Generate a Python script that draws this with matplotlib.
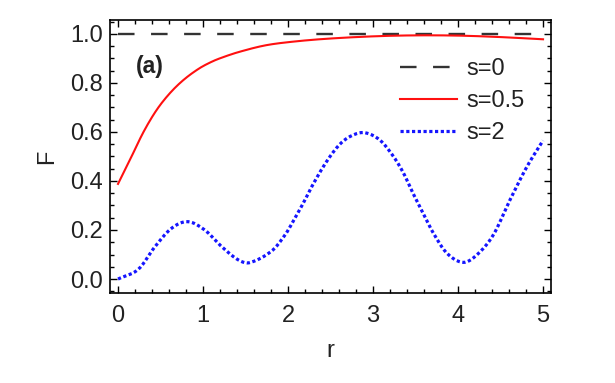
import numpy as np
import matplotlib.pyplot as plt
from matplotlib.ticker import MultipleLocator

plt.rcParams['font.family'] = ['Liberation Sans', 'DejaVu Sans']

# values
r_half = [0.0, 0.14, 0.3, 0.455, 0.61, 0.77, 0.95, 1.1, 1.22, 1.42, 1.73,
          2.05, 2.45, 3.0, 3.5, 4.0, 4.5, 5.0]
F_half = [0.388, 0.486, 0.6, 0.69, 0.758, 0.812, 0.858, 0.886, 0.903, 0.926,
          0.953, 0.968, 0.980, 0.990, 0.994, 0.993, 0.987, 0.978]

r_two = [0.0, 0.24, 0.435, 0.63, 0.82, 1.02, 1.22, 1.415, 1.55, 1.81, 1.965,
         2.06, 2.18, 2.3, 2.455, 2.61, 2.75, 2.9, 3.08, 3.24, 3.36, 3.47, 3.59,
         3.71, 3.87, 4.06, 4.22, 4.415, 4.61, 4.81, 5.0]
F_two = [0.0, 0.04, 0.132, 0.207, 0.234, 0.2, 0.132, 0.078, 0.067, 0.115, 0.18,
         0.235, 0.31, 0.39, 0.48, 0.55, 0.585, 0.597, 0.567, 0.5, 0.431, 0.35,
         0.268, 0.187, 0.105, 0.068, 0.098, 0.18, 0.322, 0.458, 0.565]

r_zero = [0.0, 5.0]
F_zero = [1.0, 1.0]

labels = ['s=0', 's=0.5', 's=2']

fig = plt.figure(figsize=(6.15, 3.83), dpi=100)
ax = fig.add_axes([0.1789, 0.235, 0.896 - 0.1789, 0.948 - 0.235])


def smooth(x, y, n=400):
    # cubic hermite through the read points
    x = np.asarray(x)
    y = np.asarray(y)
    xs = np.linspace(x[0], x[-1], n)
    out = []
    for xv in xs:
        i = np.searchsorted(x, xv) - 1
        i = min(max(i, 0), len(x) - 2)
        x0, x1 = x[i], x[i + 1]
        y0, y1 = y[i], y[i + 1]
        m0 = (y[i + 1] - y[i - 1]) / (x[i + 1] - x[i - 1]) if i > 0 else (y1 - y0) / (x1 - x0)
        m1 = (y[i + 2] - y[i]) / (x[i + 2] - x[i]) if i + 2 < len(x) else (y1 - y0) / (x1 - x0)
        h = x1 - x0
        t = (xv - x0) / h
        h00 = 2 * t**3 - 3 * t**2 + 1
        h10 = t**3 - 2 * t**2 + t
        h01 = -2 * t**3 + 3 * t**2
        h11 = t**3 - t**2
        out.append(h00 * y0 + h10 * h * m0 + h01 * y1 + h11 * h * m1)
    return xs, np.array(out)


ax.plot(r_zero, F_zero, color='#333333', lw=1.7, ls=(0, (7, 7)), label=labels[0])
xs, ys = smooth(r_half, F_half)
ax.plot(xs, ys, color='#ff1010', lw=1.5, label=labels[1])
xs, ys = smooth(r_two, F_two)
ax.plot(xs, ys, color='#1515ff', lw=2.3, ls=(0, (1.0, 0.8)), label=labels[2])

ax.set_xlim(-0.094, 5.094)
ax.set_ylim(-0.057, 1.057)
ax.xaxis.set_major_locator(MultipleLocator(1))
ax.xaxis.set_minor_locator(MultipleLocator(0.2))
ax.yaxis.set_major_locator(MultipleLocator(0.2))
ax.yaxis.set_minor_locator(MultipleLocator(0.05))
ax.yaxis.set_major_formatter(plt.FuncFormatter(lambda v, p: f'{v:.1f}'))
ax.tick_params(which='both', direction='in', top=True, right=True, width=1.0,
               labelsize=17, colors='black', labelcolor='#222222')
ax.tick_params(axis='x', pad=9)
ax.tick_params(axis='y', pad=5)
ax.tick_params(which='major', length=5)
ax.tick_params(which='minor', length=3)
for s in ax.spines.values():
    s.set_linewidth(1.2)

ax.set_xlabel('r', fontsize=17, color='#222222', labelpad=9)
ax.set_ylabel('F', fontsize=17, color='#222222', labelpad=9)
ax.text(0.0907, 0.831, '(a)', transform=ax.transAxes, fontsize=16.5,
        fontweight='bold', color='#222222', ha='center', va='center')

leg = ax.legend(loc='upper right', bbox_to_anchor=(0.941, 0.86), frameon=False,
                fontsize=17, handlelength=2.4, handletextpad=0.42,
                labelspacing=0.42, borderaxespad=0, borderpad=0)
for t in leg.get_texts():
    t.set_color('#222222')

fig.savefig('out.png', dpi=100)
